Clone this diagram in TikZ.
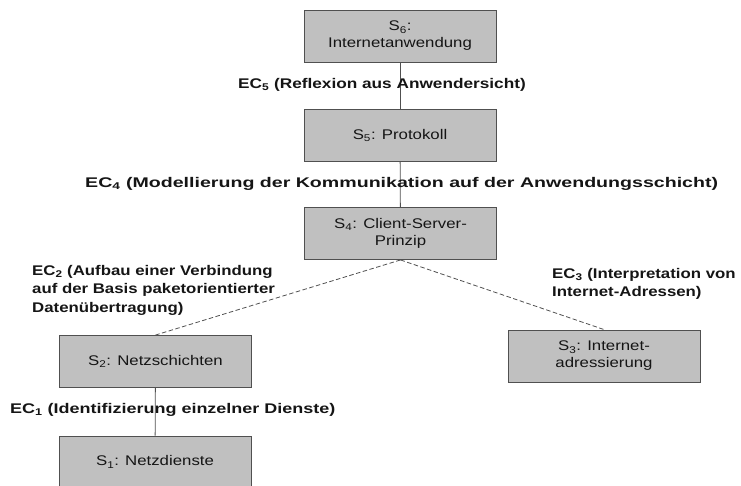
\documentclass[tikz,border=0pt]{standalone}
\usepackage{fontspec}
\usepackage{graphicx}
\newfontfamily\diafont{Liberation Sans}[FakeStretch=1.2]
\definecolor{boxfill}{HTML}{C0C0C0}
\definecolor{boxline}{HTML}{505050}
\definecolor{txt}{HTML}{151515}
\begin{document}
\begin{tikzpicture}[x=1pt,y=1pt,
  box/.style={draw=boxline, fill=boxfill, line width=0.9pt, minimum width=192pt,
    minimum height=52pt, inner sep=0pt, align=center, text=txt,
    font=\diafont\fontsize{14}{17}\selectfont},
  lab/.style={inner sep=0pt, align=left, anchor=west, text=txt,
    font=\diafont\bfseries\fontsize{14}{18.5}\selectfont},
  conn/.style={draw=boxline, line width=0.8pt},
  dconn/.style={conn, dash pattern=on 4.5pt off 2.5pt}]
\useasboundingbox (0,0) rectangle (741,-486);
\node[box] (S6) at (400,-36) {S\textsubscript{6}:\\Internetanwendung};
\node[box] (S5) at (400,-135.5) {S\textsubscript{5}: Protokoll};
\node[box] (S4) at (400.5,-233.5) {S\textsubscript{4}: Client-Server-\\Prinzip};
\node[box] (S2) at (155.5,-361.5) {S\textsubscript{2}: Netzschichten};
\node[box] (S3) at (604,-356) {S\textsubscript{3}: Internet-\\adressierung};
\node[box] (S1) at (155,-462) {S\textsubscript{1}: Netzdienste};
\draw[conn] (S6) -- (S5);
\draw[conn] (S5) -- (S4);
\draw[dconn] (S4.south) -- (S2.north);
\draw[dconn] (S4.south) -- (S3.north);
\draw[conn] (S2) -- (S1);
\node[lab] (EC5) at (238,-85) {\scalebox{1.025}[1]{EC\textsubscript{5} (Reflexion aus Anwendersicht)}};
\node[lab] (EC4) at (85,-184) {\scalebox{1.166}[1]{EC\textsubscript{4} (Modellierung der Kommunikation auf der Anwendungsschicht)}};
\node[lab] (EC2) at (32,-290) {EC\textsubscript{2} (Aufbau einer Verbindung\\auf der Basis paketorientierter\\Datenübertragung)};
\node[lab] (EC3) at (552,-284) {EC\textsubscript{3} (Interpretation von\\Internet-Adressen)};
\node[lab] (EC1) at (10,-410) {\scalebox{1.07}[1]{EC\textsubscript{1} (Identifizierung einzelner Dienste)}};
\end{tikzpicture}
\end{document}
